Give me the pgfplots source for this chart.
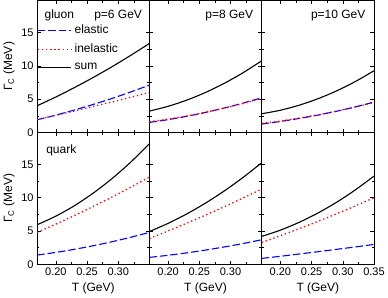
\documentclass[border=0pt]{standalone}
\usepackage{fontspec}
\setmainfont{Liberation Sans}
\usepackage{pgfplots}
\pgfplotsset{compat=1.18}
\usepgfplotslibrary{groupplots}
\newcommand{\fs}{\fontsize{11}{13}\selectfont}
\newcommand{\fl}{\fontsize{12}{14}\selectfont}
\definecolor{eblue}{RGB}{0,0,255}
\definecolor{ired}{RGB}{255,0,0}
\pgfplotsset{legend image code/.code={\draw[#1] (0pt,0pt) -- (33pt,0pt);}}
\begin{document}
\begin{tikzpicture}
\begin{groupplot}[
  group style={group size=3 by 2, horizontal sep=0pt, vertical sep=0pt},
  scale only axis, width=112.3pt, height=132pt,
  xmin=0.17, xmax=0.35, ymin=0, ymax=19.8,
  xtick={0.2,0.25,0.3,0.35}, ytick={0,5,10,15},
  minor x tick num=1, minor y tick num=1,
  tick align=inside, major tick length=3.5pt, minor tick length=2.2pt,
  every tick/.style={black, line width=0.5pt},
  axis line style={line width=0.9pt},
  /pgf/number format/assume math mode=true,
  tick label style={font=\fs},
  label style={font=\fl},
  xticklabels={}, yticklabels={},
  every axis plot/.append style={line width=1.1pt, smooth},
]
% panel 1: gluon p=6
\nextgroupplot[yticklabels={0,5,10,15}, ylabel={Γ\textsubscript{C} (MeV)},
  legend style={at={(rel axis cs:0,0.83)}, anchor=north west, draw=none, fill=none, font=\fl, row sep=5pt, inner sep=0pt,
    nodes={inner xsep=3pt}},
  legend cell align=left]
\addplot[eblue, dash pattern=on 7.5pt off 3pt] coordinates {(0.17,1.9) (0.20,2.60) (0.23,3.37) (0.26,4.2) (0.29,5.10) (0.32,6.07) (0.35,7.1)};
\addlegendentry{elastic}
\addplot[ired, line width=1.3pt, dash pattern=on 1.3pt off 2.8pt] coordinates {(0.17,1.95) (0.20,2.58) (0.23,3.23) (0.26,3.9) (0.29,4.58) (0.32,5.28) (0.35,6.0)};
\addlegendentry{inelastic}
\addplot[black] coordinates {(0.17,4.0) (0.20,5.32) (0.23,6.74) (0.26,8.25) (0.29,9.86) (0.32,11.56) (0.35,13.35)};
\addlegendentry{sum}
\node[anchor=base west, font=\fl] at (rel axis cs:0.035,0.866) {gluon};
\node[anchor=base east, font=\fl] at (rel axis cs:0.965,0.866) {p=6 GeV};
% panel 2: gluon p=8
\nextgroupplot
\addplot[eblue, dash pattern=on 7.5pt off 3pt] coordinates {(0.17,1.5) (0.20,1.92) (0.23,2.42) (0.26,3.0) (0.29,3.66) (0.32,4.39) (0.35,5.2)};
\addplot[ired, line width=1.3pt, dash pattern=on 1.3pt off 2.8pt] coordinates {(0.17,1.6) (0.20,2.0) (0.23,2.48) (0.26,3.03) (0.29,3.65) (0.32,4.34) (0.35,5.1)};
\addplot[black] coordinates {(0.17,3.2) (0.20,3.92) (0.23,4.85) (0.26,6.0) (0.29,7.37) (0.32,8.95) (0.35,10.75)};
\node[anchor=base east, font=\fl] at (rel axis cs:0.955,0.866) {p=8 GeV};
% panel 3: gluon p=10
\nextgroupplot
\addplot[eblue, dash pattern=on 7.5pt off 3pt] coordinates {(0.17,1.26) (0.20,1.64) (0.23,2.09) (0.26,2.6) (0.29,3.18) (0.32,3.83) (0.35,4.55)};
\addplot[ired, line width=1.3pt, dash pattern=on 1.3pt off 2.8pt] coordinates {(0.17,1.35) (0.20,1.72) (0.23,2.15) (0.26,2.64) (0.29,3.2) (0.32,3.82) (0.35,4.5)};
\addplot[black] coordinates {(0.17,2.8) (0.20,3.33) (0.23,4.08) (0.26,5.05) (0.29,6.23) (0.32,7.63) (0.35,9.25)};
\node[anchor=base east, font=\fl] at (rel axis cs:0.955,0.866) {p=10 GeV};
% panel 4: quark p=6
\nextgroupplot[yticklabels={0,5,10,15}, ylabel={Γ\textsubscript{C} (MeV)},
  xticklabels={0.20,0.25,0.30,}, xlabel={T (GeV)}]
\addplot[eblue, dash pattern=on 7.5pt off 3pt] coordinates {(0.17,1.4) (0.20,1.80) (0.23,2.27) (0.26,2.8) (0.29,3.40) (0.32,4.07) (0.35,4.8)};
\addplot[ired, line width=1.3pt, dash pattern=on 1.3pt off 2.8pt] coordinates {(0.17,4.8) (0.20,6.04) (0.23,7.34) (0.26,8.7) (0.29,10.11) (0.32,11.58) (0.35,13.1)};
\addplot[black] coordinates {(0.17,5.95) (0.20,7.24) (0.23,8.82) (0.26,10.7) (0.29,12.87) (0.32,15.34) (0.35,18.1)};
\node[anchor=base west, font=\fl] at (rel axis cs:0.05,0.844) {quark};
% panel 5: quark p=8
\nextgroupplot[xticklabels={0.20,0.25,0.30,}, xlabel={T (GeV)}]
\addplot[eblue, dash pattern=on 7.5pt off 3pt] coordinates {(0.17,1.05) (0.20,1.37) (0.23,1.73) (0.26,2.15) (0.29,2.62) (0.32,3.13) (0.35,3.7)};
\addplot[ired, line width=1.3pt, dash pattern=on 1.3pt off 2.8pt] coordinates {(0.17,3.9) (0.20,5.02) (0.23,6.19) (0.26,7.4) (0.29,8.66) (0.32,9.96) (0.35,11.3)};
\addplot[black] coordinates {(0.17,4.93) (0.20,6.16) (0.23,7.58) (0.26,9.2) (0.29,11.02) (0.32,13.04) (0.35,15.25)};
% panel 6: quark p=10
\nextgroupplot[xticklabels={0.20,0.25,0.30,0.35}, xlabel={T (GeV)}]
\addplot[eblue, dash pattern=on 7.5pt off 3pt] coordinates {(0.17,0.9) (0.20,1.22) (0.23,1.56) (0.26,1.9) (0.29,2.26) (0.32,2.62) (0.35,3.0)};
\addplot[ired, line width=1.3pt, dash pattern=on 1.3pt off 2.8pt] coordinates {(0.17,3.3) (0.20,4.31) (0.23,5.36) (0.26,6.45) (0.29,7.59) (0.32,8.77) (0.35,10.0)};
\addplot[black] coordinates {(0.17,4.2) (0.20,5.14) (0.23,6.31) (0.26,7.7) (0.29,9.32) (0.32,11.17) (0.35,13.25)};
\end{groupplot}
\end{tikzpicture}
\end{document}
